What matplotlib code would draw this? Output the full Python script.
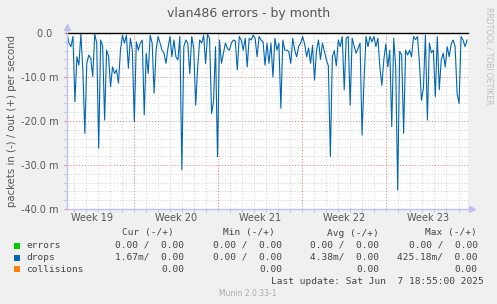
import matplotlib
matplotlib.use('Agg')
import matplotlib.pyplot as plt
import matplotlib.dates as mdates
from matplotlib.patches import Rectangle
import pandas as pd

W, H = 497, 304

# drops, "in" direction (drawn negative), in milli packets per second
drops_in = [
    0, -2.3, -3.1, -0.8, -15.6, -5.4, -7.3, -0.3, -8.4, -22.8, -6.9, -5, -5.8, -9.9, -0.2, -2.3, -26.2,
    -1.6, -3, -19.8, -3.9, -5.4, -12.2, -7.7, -9.2, -8.4, -11.4, -3.9, -0.5, -2.3, -0.5, -8, -1.2,
    -3.9, -20.2, -2, -3.9, -2.3, -1.6, -18.6, -4.6, -9.2, -0.5, -2.3, -13.7, -3.9, -0.8, -2.3, -3.9, -4.6,
    -6.9, -3.4, -0.8, -5.4, -1.6, -5.4, -6.1, -0.8, -31.1, -3.1, -1.6, -2.3, -9.2, -0.8, -3.5, -16.4, -7.7,
    -1.6, -2.3, -0.5, -6.9, -0.3, -1.2, -18.3, -15.6, -3.1, -28.1, -1.6, -6.9, -4.6, -2.3, -3.5, -3.9, -2.3,
    -1.6, -1.8, -8.4, -0.8, -1.6, -3.9, -1.2, -7.7, -1.2, -1.6, -0.5, -1.2, -5.4, -0.8, -1.6, -2, -7.3,
    -2.3, -6.9, -2.3, -10, -1.2, -3.9, -2.3, -17.1, -1.6, -3.9, -3.9, -4.2, -6.9, -1.2, -3.9, -5.4, -3,
    -2.3, -0.8, -2.5, -5.4, -3.4, -6.9, -2.8, -10.7, -4, -1.6, -6, -2.3, -4.2, -6.1, -7.5, -28.1, -5.4,
    -4, -7.5, -1.6, -3.1, -0.8, -12.9, -1.2, -0.8, -16.4, -1.2, -3, -4.6, -3.5, -2.3, -23.2, -10.7, -0.8,
    -3.1, -0.8, -2, -0.8, -3.1, -1.2, -7.7, -11.9, -6.1, -2.5, -7.7, -3.9, -21.3, -1.2, -7.7, -35.7, -4.2,
    -5, -22.8, -3.9, -5, -3.9, -5.4, -0.8, -1.5, -0.8, -6.9, -15.3, -12.5, -0.5, -19.8, -2.3, -4.5, -3.9,
    -14.5, -0.8, -12.9, -6.1, -4.6, -7.7, -3.1, -5.4, -2.5, -1.6, -3.1, -13.7, -16, -0.8, -1.6, -3.1, -1.6,
]

start = pd.Timestamp('2025-05-05 10:55')
end = pd.Timestamp('2025-06-07 18:55')
times = pd.date_range(start, end - pd.Timedelta(hours=2), periods=len(drops_in))

week_starts = pd.to_datetime(['2025-05-11', '2025-05-18', '2025-05-25', '2025-06-01'])
week_label_pos = pd.to_datetime(['2025-05-07 12:00', '2025-05-14 12:00', '2025-05-21 12:00',
                                 '2025-05-28 12:00', '2025-06-04 12:00'])
week_labels = ['Week 19', 'Week 20', 'Week 21', 'Week 22', 'Week 23']

y_major = [0, -10, -20, -30, -40]
y_labels = ['0.0  ', '-10.0 m', '-20.0 m', '-30.0 m', '-40.0 m']

legend_names = ['errors', 'drops', 'collisions']
legend_colors = ['#00CC00', '#0066B3', '#FF8000']
cur_vals = ['0.00 /  0.00', '1.67m/  0.00', '0.00']
min_vals = ['0.00 /  0.00', '0.00 /  0.00', '0.00']
avg_vals = ['0.00 /  0.00', '4.38m/  0.00', '0.00']
max_vals = ['0.00 /  0.00', '425.18m/  0.00', '0.00']


def fx(x):
    return x / W


def fy(y):
    return 1 - y / H


fig = plt.figure(figsize=(W / 100, H / 100), dpi=100, facecolor='#F0F0F0')
ax = fig.add_axes([fx(67), fy(209), 401 / W, 176 / H])
ax.set_facecolor('white')

ax.set_xlim(start, end)
ax.set_ylim(-40, 0)

# grid
ax.xaxis.set_minor_locator(mdates.DayLocator())
ax.set_yticks(range(-40, 1, 2), minor=True)
ax.grid(which='minor', color='#CFCFCF', linestyle=(0, (1, 2)), linewidth=0.7)
ax.set_yticks(y_major)
ax.set_yticklabels(y_labels)
ax.grid(which='major', axis='y', color='#F08080', linestyle=(0, (1, 2)), linewidth=0.7)
for d in week_starts:
    ax.axvline(d, color='#F08080', linestyle=(0, (1, 2)), linewidth=0.7)
ax.set_xticks(week_label_pos)
ax.set_xticklabels(week_labels)
ax.set_axisbelow(True)

ax.tick_params(axis='x', which='major', length=0, pad=3, labelsize=7, labelcolor='#555555')
ax.tick_params(axis='x', which='minor', length=2, color='#BBBBBB')
ax.tick_params(axis='y', which='major', length=2, color='#F08080', pad=4, labelsize=7, labelcolor='#555555')
ax.tick_params(axis='y', which='minor', length=2, color='#BBBBBB')

for s in ax.spines.values():
    s.set_visible(False)

ax.plot(times, drops_in, color='#0066B3', linewidth=0.8)
ax.axhline(0, color='black', linewidth=1.0, clip_on=False)

# axis lines with arrows
ax.plot([0, 0], [0, 1.035], color='#C0C0F0', linewidth=1, transform=ax.transAxes, clip_on=False)
ax.plot([0], [1.035], marker='^', markersize=4, color='#C0C0F0', transform=ax.transAxes, clip_on=False)
ax.plot([0, 1.01], [0, 0], color='#C0C0F0', linewidth=1, transform=ax.transAxes, clip_on=False)
ax.plot([1.01], [0], marker='>', markersize=4, color='#C0C0F0', transform=ax.transAxes, clip_on=False)

fig.text(fx(12), fy(121), 'packets in (-) / out (+) per second', ha='center', va='center',
         rotation=90, fontsize=7.3, color='#555555')

fig.text(fx(248.5), fy(14), 'vlan486 errors - by month', ha='center', va='center',
         fontsize=9, color='#555555')
fig.text(fx(489), fy(56), 'RRDTOOL / TOBI OETIKER', ha='center', va='center',
         rotation=-90, fontsize=5.5, color='#BBBBBB')

# legend block
mono = dict(family='DejaVu Sans Mono', fontsize=6.8, color='#444444', va='center')
fig.text(fx(174), fy(233), 'Cur (-/+)', ha='right', **mono)
fig.text(fx(275), fy(233), 'Min (-/+)', ha='right', **mono)
fig.text(fx(379), fy(233), 'Avg (-/+)', ha='right', **mono)
fig.text(fx(476.5), fy(233), 'Max (-/+)', ha='right', **mono)

row_y = [245.5, 257.5, 269.3]
for i, name in enumerate(legend_names):
    y = row_y[i]
    fig.add_artist(Rectangle((fx(14), fy(y + 3)), 6 / W, 6 / H, transform=fig.transFigure,
                             facecolor=legend_colors[i], edgecolor='none'))
    fig.text(fx(26.5), fy(y), name, ha='left', **mono)
    fig.text(fx(184), fy(y), cur_vals[i], ha='right', **mono)
    fig.text(fx(282.3), fy(y), min_vals[i], ha='right', **mono)
    fig.text(fx(379), fy(y), avg_vals[i], ha='right', **mono)
    fig.text(fx(477.7), fy(y), max_vals[i], ha='right', **mono)

fig.text(fx(483.3), fy(281), 'Last update: Sat Jun  7 18:55:00 2025', ha='right', **mono)
fig.text(fx(248), fy(294), 'Munin 2.0.33-1', ha='center', va='center', fontsize=5.5, color='#AAAAAA')

fig.savefig('out.png', dpi=100, facecolor=fig.get_facecolor())
